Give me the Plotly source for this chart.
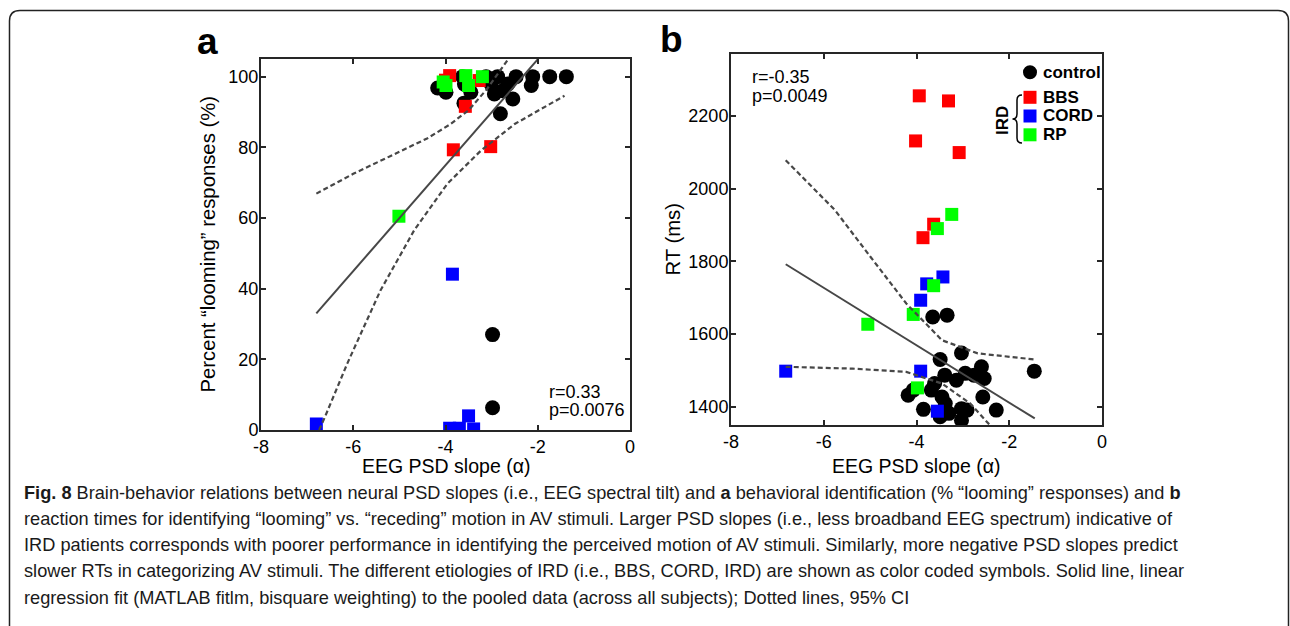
import plotly.graph_objects as go

# ---------------- data: panel a (percent looming responses) ----------------
a_ctrl_x = [-2.98, -2.98, -2.81, -4.17, -3.99, -2.87, -2.47, -2.11, -1.74, -1.38,
            -2.14, -2.54, -2.76, -2.94, -3.59, -3.45, -3.63, -3.01, -2.65, -3.12, -3.60]
a_ctrl_y = [27.0, 6.3, 89.5, 96.8, 95.6, 100.0, 100.0, 100.0, 100.0, 100.0,
            97.5, 93.7, 96.0, 95.1, 97.9, 95.6, 100.0, 97.9, 97.9, 100.0, 92.5]
a_bbs_x = [-4.00, -3.83, -3.02, -3.57, -3.91, -3.27]
a_bbs_y = [99.0, 79.3, 80.2, 91.6, 100.3, 98.9]
a_cord_x = [-6.80, -3.85, -3.91, -3.70, -3.50, -3.39]
a_cord_y = [1.7, 44.1, 0.5, 0.5, 4.0, 0.3]
a_rp_x = [-5.01, -4.05, -3.99, -3.56, -3.50, -3.20]
a_rp_y = [60.5, 98.5, 97.5, 100.3, 97.5, 100.0]
a_fit_x = [-6.80, -2.00]
a_fit_y = [33.0, 104.9]
a_ciup_x = [-6.80, -6.00, -5.20, -4.40, -3.90, -3.50, -3.10, -2.65]
a_ciup_y = [66.9, 72.5, 77.5, 82.5, 86.5, 90.5, 96.5, 104.8]
a_cilo_x = [-6.74, -6.61, -6.13, -5.41, -4.68, -3.96, -3.23, -2.50, -1.42]
a_cilo_y = [0.0, 3.8, 18.8, 39.5, 56.5, 69.7, 79.1, 86.6, 94.6]

# ---------------- data: panel b (reaction times) ----------------
b_ctrl_x = [-3.65, -3.34, -3.03, -3.49, -1.46, -2.60, -2.54, -2.95, -3.39, -3.14,
            -4.18, -3.68, -3.45, -2.57, -3.85, -3.03, -2.28, -3.49, -3.03, -2.91,
            -3.38, -4.07, -2.76, -3.61, -3.30]
b_ctrl_y = [1647, 1652, 1548, 1530, 1498, 1510, 1478, 1492, 1487, 1473,
            1432, 1446, 1427, 1427, 1393, 1395, 1391, 1373, 1363, 1391,
            1409, 1446, 1487, 1464, 1382]
b_bbs_x = [-3.94, -3.31, -4.02, -3.08, -3.63, -3.86]
b_bbs_y = [2255, 2241, 2131, 2099, 1902, 1865]
b_cord_x = [-3.43, -3.78, -3.91, -6.82, -3.91, -3.55]
b_cord_y = [1757, 1738, 1693, 1498, 1498, 1388]
b_rp_x = [-3.24, -3.55, -3.63, -4.07, -5.05, -3.98]
b_rp_y = [1929, 1890, 1733, 1654, 1627, 1452]
b_fit_x = [-6.82, -1.45]
b_fit_y = [1792, 1368]
b_ciup_x = [-6.82, -5.76, -4.99, -4.22, -3.45, -2.68, -1.45]
b_ciup_y = [2078, 1941, 1812, 1684, 1583, 1547, 1530]
b_cilo_x = [-6.82, -5.38, -4.22, -3.45, -2.84, -2.42]
b_cilo_y = [1510, 1505, 1496, 1464, 1409, 1350]

# ---------------- ticks / labels ----------------
x_ticks = [-8, -6, -4, -2, 0]
x_ticklabels = ["-8", "-6", "-4", "-2", "0"]
a_yticks = [0, 20, 40, 60, 80, 100]
b_yticks = [1400, 1600, 1800, 2000, 2200]
stats_a = ["r=0.33", "p=0.0076"]
stats_b = ["r=-0.35", "p=0.0049"]
legend_names = ["control", "BBS", "CORD", "RP"]
caption_lines = [
    "<b>Fig. 8</b> Brain-behavior relations between neural PSD slopes (i.e., EEG spectral tilt) and <b>a</b> behavioral identification (% “looming” responses) and <b>b</b>",
    "reaction times for identifying “looming” vs. “receding” motion in AV stimuli. Larger PSD slopes (i.e., less broadband EEG spectrum) indicative of",
    "IRD patients corresponds with poorer performance in identifying the perceived motion of AV stimuli. Similarly, more negative PSD slopes predict",
    "slower RTs in categorizing AV stimuli. The different etiologies of IRD (i.e., BBS, CORD, IRD) are shown as color coded symbols. Solid line, linear",
    "regression fit (MATLAB fitlm, bisquare weighting) to the pooled data (across all subjects); Dotted lines, 95% CI",
]

W, H = 1290, 626
def PX(x):
    return x / W
def PY(y):
    return 1 - y / H

RED, BLUE, GREEN, BLACK = "#ff0000", "#0000ff", "#00ff00", "#000000"
LINEC = "#474747"
AXC = "#262626"
FONT = "Liberation Sans, Arial, Helvetica, sans-serif"

fig = go.Figure()

def add_panel(xa, ya, ctrl, bbs, cord, rp, fit, ciup, cilo):
    fig.add_trace(go.Scatter(x=ctrl[0], y=ctrl[1], mode="markers", xaxis=xa, yaxis=ya,
                             marker=dict(symbol="circle", size=15, color=BLACK, line=dict(width=0)),
                             showlegend=False))
    for d, c in ((bbs, RED), (cord, BLUE), (rp, GREEN)):
        fig.add_trace(go.Scatter(x=d[0], y=d[1], mode="markers", xaxis=xa, yaxis=ya,
                                 marker=dict(symbol="square", size=13, color=c, line=dict(width=0)),
                                 showlegend=False))
    fig.add_trace(go.Scatter(x=fit[0], y=fit[1], mode="lines", xaxis=xa, yaxis=ya,
                             line=dict(color=LINEC, width=2), showlegend=False))
    for d in (ciup, cilo):
        fig.add_trace(go.Scatter(x=d[0], y=d[1], mode="lines", xaxis=xa, yaxis=ya,
                                 line=dict(color=LINEC, width=2.2, dash="5px,3px"), showlegend=False))

add_panel("x", "y", (a_ctrl_x, a_ctrl_y), (a_bbs_x, a_bbs_y), (a_cord_x, a_cord_y),
          (a_rp_x, a_rp_y), (a_fit_x, a_fit_y), (a_ciup_x, a_ciup_y), (a_cilo_x, a_cilo_y))
add_panel("x2", "y2", (b_ctrl_x, b_ctrl_y), (b_bbs_x, b_bbs_y), (b_cord_x, b_cord_y),
          (b_rp_x, b_rp_y), (b_fit_x, b_fit_y), (b_ciup_x, b_ciup_y), (b_cilo_x, b_cilo_y))

axis_common = dict(showline=True, linecolor=AXC, linewidth=2, mirror="ticks", ticks="inside",
                   ticklen=5, tickwidth=1.5, tickcolor=AXC, showgrid=False, zeroline=False,
                   automargin=False,
                   tickfont=dict(family=FONT, size=18, color="#000000"))
x_common = dict(axis_common, ticklabelstandoff=-1)
y_common = dict(axis_common, ticklabelstandoff=-3)

fig.update_layout(
    template="none",
    width=W, height=H, margin=dict(l=0, r=0, t=0, b=0, pad=0), autosize=False,
    paper_bgcolor="white", plot_bgcolor="white", showlegend=False,
    xaxis=dict(domain=[PX(261), PX(630)], range=[-8, 0], tickvals=x_ticks, ticktext=x_ticklabels,
               anchor="y", **x_common),
    yaxis=dict(domain=[PY(430), PY(59)], range=[0, 105], tickvals=a_yticks, anchor="x", **y_common),
    xaxis2=dict(domain=[PX(731), PX(1102)], range=[-8, 0], tickvals=x_ticks, ticktext=x_ticklabels,
                anchor="y2", **x_common),
    yaxis2=dict(domain=[PY(425), PY(54)], range=[1350, 2370], tickvals=b_yticks, anchor="x2", **y_common),
)

ann = []
def text(x, y, t, size, bold=False, xanchor="center", yanchor="middle", angle=0, color="#000000", family=FONT):
    ann.append(dict(x=PX(x), y=PY(y), xref="paper", yref="paper", text=(f"<b>{t}</b>" if bold else t),
                    showarrow=False, xanchor=xanchor, yanchor=yanchor, textangle=angle,
                    font=dict(family=family, size=size, color=color)))

# panel labels
text(207, 42, "a", 37, bold=True)
text(671, 40, "b", 37, bold=True)
# axis titles
text(445.5, 466, "EEG PSD slope (α)", 19.5)
text(916.5, 466, "EEG PSD slope (α)", 19.5)
text(207, 244.5, "Percent “looming” responses (%)", 20.3, angle=-90)
text(672, 239.5, "RT (ms)", 20.3, angle=-90)
# stats
text(547, 391.5, stats_a[0], 18, xanchor="left")
text(547, 409.5, stats_a[1], 18, xanchor="left")
text(750, 76.5, stats_b[0], 18, xanchor="left")
text(750, 95.5, stats_b[1], 18, xanchor="left")
# legend
leg_y = [72.3, 97.3, 116.0, 134.8]
for name, yy in zip(legend_names, leg_y):
    text(1041, yy, name, 17, bold=True, xanchor="left")
text(1002, 121, "IRD", 17, bold=True, angle=-90)
# caption
cap_y = [493, 519, 545, 571, 598]
for line, yy in zip(caption_lines, cap_y):
    text(22, yy, line, 18.2, xanchor="left", color="#1a1a1a")
fig.update_layout(annotations=ann)

shapes = []
# legend markers
shapes.append(dict(type="circle", xref="paper", yref="paper", x0=PX(1023), x1=PX(1037),
                   y0=PY(79.3), y1=PY(65.3), fillcolor=BLACK, line=dict(width=0)))
for c, yy in zip((RED, BLUE, GREEN), leg_y[1:]):
    shapes.append(dict(type="rect", xref="paper", yref="paper", x0=PX(1023.5), x1=PX(1036.5),
                       y0=PY(yy + 6.5), y1=PY(yy - 6.5), fillcolor=c, line=dict(width=0)))
# brace
def P(x, y):
    return f"{PX(x):.5f},{PY(y):.5f}"
brace = (f"M {P(1022, 95)} Q {P(1017, 95)} {P(1017, 100)} L {P(1017, 114)} "
         f"Q {P(1017, 119)} {P(1012.5, 119)} Q {P(1017, 119)} {P(1017, 124)} "
         f"L {P(1017, 138)} Q {P(1017, 143)} {P(1022, 143)}")
shapes.append(dict(type="path", xref="paper", yref="paper", path=brace, line=dict(color=BLACK, width=1.5)))
# outer rounded frame
frame = (f"M {P(9.5, 640)} L {P(9.5, 21)} Q {P(9.5, 10.5)} {P(20, 10.5)} L {P(1278, 10.5)} "
         f"Q {P(1288.5, 10.5)} {P(1288.5, 21)} L {P(1288.5, 640)}")
shapes.append(dict(type="path", xref="paper", yref="paper", path=frame, line=dict(color="#222222", width=1.5)))
fig.update_layout(shapes=shapes)

fig.write_html("out.html", config={"displayModeBar": False},
               post_script="document.body.style.margin='0px';document.body.style.overflow='hidden';")
